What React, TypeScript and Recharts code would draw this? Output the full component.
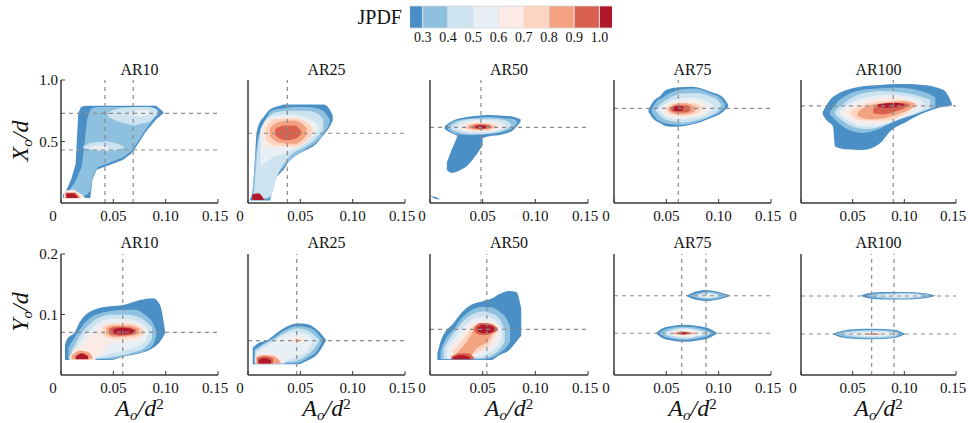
import { ComposedChart, Area, XAxis, YAxis, ReferenceLine } from 'recharts';

type Patch = { lv: number; pts: number[][] };

const LEVEL_COLORS = ['#4a8fc5', '#8ec0df', '#cde3ef', '#e8f0f5', '#fbebe4', '#fdd4bf', '#f3a382', '#d9604e', '#b2182b'];
const cbEdges = [0.25, 0.3, 0.4, 0.5, 0.6, 0.7, 0.8, 0.9, 1.0, 1.05];
const cbTicks = [0.3, 0.4, 0.5, 0.6, 0.7, 0.8, 0.9, 1.0];
const xTicks = [0, 0.05, 0.1, 0.15];
const titles = ['AR10', 'AR25', 'AR50', 'AR75', 'AR100'];

// dashed guide lines per panel
const xRowVLines = [[0.042, 0.069], [0.0376], [0.0484], [0.0614], [0.0893]];
const xRowHLines = [[0.729, 0.431], [0.567], [0.615], [0.77], [0.79]];
const yRowVLines = [[0.059], [0.0465], [0.054], [0.0647, 0.0879], [0.0684, 0.09]];
const yRowHLines = [[0.0705], [0.0567], [0.0755], [0.131, 0.069], [0.1306, 0.0678]];

// contour patches, points are [x, lower, upper]
const xAR10: Patch[] = [
  { lv: 0, pts: [[0.002, 0.04, 0.07], [0.006, 0.04, 0.12], [0.01, 0.04, 0.2], [0.014, 0.04, 0.32], [0.0165, 0.04, 0.73], [0.019, 0.04, 0.78], [0.023, 0.04, 0.79], [0.028, 0.04, 0.79], [0.03, 0.19, 0.79], [0.034, 0.27, 0.79], [0.047, 0.31, 0.79], [0.059, 0.35, 0.79], [0.067, 0.4, 0.79], [0.072, 0.46, 0.79], [0.081, 0.58, 0.79], [0.091, 0.68, 0.79], [0.098, 0.73, 0.74]] },
  { lv: 1, pts: [[0.008, 0.05, 0.1], [0.014, 0.05, 0.18], [0.02, 0.05, 0.3], [0.025, 0.07, 0.68], [0.028, 0.1, 0.76], [0.031, 0.23, 0.775], [0.035, 0.29, 0.78], [0.047, 0.33, 0.78], [0.059, 0.37, 0.78], [0.067, 0.42, 0.78], [0.072, 0.48, 0.78], [0.081, 0.6, 0.78], [0.089, 0.69, 0.775], [0.093, 0.73, 0.745]] },
  { lv: 2, pts: [[0.045, 0.7, 0.74], [0.055, 0.66, 0.77], [0.07, 0.63, 0.78], [0.085, 0.66, 0.78], [0.092, 0.72, 0.76]] },
  { lv: 2, pts: [[0.021, 0.45, 0.46], [0.028, 0.43, 0.49], [0.045, 0.42, 0.5], [0.055, 0.43, 0.48], [0.06, 0.45, 0.46]] },
  { lv: 3, pts: [[0.065, 0.72, 0.73], [0.075, 0.7, 0.76], [0.085, 0.72, 0.75]] },
  { lv: 3, pts: [[0.028, 0.445, 0.455], [0.036, 0.435, 0.47], [0.045, 0.44, 0.46]] },
  { lv: 4, pts: [[0.003, 0.035, 0.1], [0.012, 0.035, 0.11], [0.02, 0.035, 0.07], [0.023, 0.035, 0.045]] },
  { lv: 6, pts: [[0.004, 0.038, 0.085], [0.014, 0.038, 0.088], [0.018, 0.038, 0.055]] },
  { lv: 8, pts: [[0.005, 0.04, 0.08], [0.013, 0.04, 0.08], [0.016, 0.04, 0.05]] },
];

const xAR25: Patch[] = [
  { lv: 0, pts: [[0.002, 0.02, 0.03], [0.005, 0.02, 0.13], [0.008, 0.02, 0.55], [0.01, 0.02, 0.63], [0.015, 0.02, 0.7], [0.021, 0.02, 0.76], [0.024, 0.16, 0.775], [0.0305, 0.24, 0.79], [0.034, 0.27, 0.8], [0.04, 0.35, 0.8], [0.0465, 0.39, 0.8], [0.053, 0.42, 0.8], [0.065, 0.48, 0.8], [0.072, 0.55, 0.8], [0.078, 0.62, 0.76], [0.081, 0.67, 0.71]] },
  { lv: 1, pts: [[0.004, 0.03, 0.06], [0.009, 0.03, 0.5], [0.012, 0.03, 0.6], [0.017, 0.03, 0.68], [0.021, 0.04, 0.74], [0.026, 0.19, 0.76], [0.034, 0.29, 0.77], [0.045, 0.38, 0.78], [0.055, 0.44, 0.78], [0.066, 0.5, 0.77], [0.075, 0.6, 0.72], [0.078, 0.65, 0.68]] },
  { lv: 2, pts: [[0.006, 0.04, 0.1], [0.011, 0.04, 0.55], [0.016, 0.04, 0.65], [0.022, 0.06, 0.72], [0.028, 0.22, 0.74], [0.04, 0.38, 0.75], [0.055, 0.46, 0.75], [0.066, 0.53, 0.73], [0.072, 0.6, 0.68]] },
  { lv: 3, pts: [[0.012, 0.3, 0.6], [0.02, 0.35, 0.7], [0.04, 0.42, 0.72], [0.06, 0.52, 0.68], [0.068, 0.6, 0.63]] },
  { lv: 4, pts: [[0.014, 0.48, 0.62], [0.02, 0.45, 0.68], [0.04, 0.45, 0.7], [0.055, 0.5, 0.67], [0.063, 0.58, 0.62]] },
  { lv: 5, pts: [[0.017, 0.52, 0.62], [0.025, 0.47, 0.68], [0.045, 0.46, 0.69], [0.058, 0.52, 0.64], [0.062, 0.57, 0.59]] },
  { lv: 6, pts: [[0.021, 0.54, 0.61], [0.03, 0.49, 0.66], [0.045, 0.48, 0.67], [0.056, 0.55, 0.61]] },
  { lv: 7, pts: [[0.026, 0.55, 0.6], [0.035, 0.51, 0.63], [0.045, 0.52, 0.63], [0.051, 0.56, 0.58]] },
  { lv: 8, pts: [[0.004, 0.025, 0.07], [0.01, 0.025, 0.08], [0.015, 0.025, 0.035]] },
];

const xAR50: Patch[] = [
  { lv: 0, pts: [[0.014, 0.6, 0.625], [0.018, 0.58, 0.65], [0.025, 0.55, 0.68], [0.035, 0.53, 0.7], [0.045, 0.52, 0.71], [0.055, 0.54, 0.715], [0.07, 0.56, 0.71], [0.08, 0.6, 0.7], [0.086, 0.66, 0.68]] },
  { lv: 0, pts: [[0.016, 0.27, 0.33], [0.02, 0.245, 0.42], [0.024, 0.25, 0.5], [0.028, 0.265, 0.58], [0.035, 0.3, 0.6], [0.042, 0.37, 0.6], [0.05, 0.47, 0.6]] },
  { lv: 0, pts: [[0.001, 0.05, 0.055], [0.005, 0.035, 0.05], [0.009, 0.028, 0.033]] },
  { lv: 1, pts: [[0.017, 0.6, 0.63], [0.025, 0.56, 0.67], [0.04, 0.55, 0.69], [0.055, 0.56, 0.7], [0.07, 0.58, 0.69], [0.08, 0.62, 0.68], [0.083, 0.65, 0.66]] },
  { lv: 2, pts: [[0.02, 0.6, 0.63], [0.03, 0.57, 0.67], [0.045, 0.56, 0.685], [0.06, 0.57, 0.685], [0.072, 0.6, 0.67], [0.077, 0.625, 0.64]] },
  { lv: 3, pts: [[0.025, 0.6, 0.63], [0.035, 0.58, 0.665], [0.05, 0.575, 0.675], [0.065, 0.59, 0.665], [0.072, 0.62, 0.63]] },
  { lv: 4, pts: [[0.03, 0.6, 0.63], [0.04, 0.585, 0.655], [0.055, 0.585, 0.66], [0.066, 0.61, 0.63]] },
  { lv: 5, pts: [[0.033, 0.605, 0.625], [0.042, 0.59, 0.65], [0.055, 0.59, 0.65], [0.063, 0.61, 0.625]] },
  { lv: 6, pts: [[0.036, 0.61, 0.625], [0.045, 0.595, 0.645], [0.055, 0.6, 0.64], [0.06, 0.615, 0.625]] },
  { lv: 7, pts: [[0.04, 0.61, 0.625], [0.047, 0.6, 0.64], [0.055, 0.605, 0.635], [0.058, 0.615, 0.622]] },
  { lv: 8, pts: [[0.043, 0.612, 0.622], [0.048, 0.605, 0.632], [0.053, 0.61, 0.628]] },
];

const xAR75: Patch[] = [
  { lv: 0, pts: [[0.033, 0.74, 0.76], [0.037, 0.69, 0.82], [0.044, 0.65, 0.87], [0.05, 0.625, 0.92], [0.06, 0.62, 0.94], [0.075, 0.64, 0.945], [0.092, 0.69, 0.905], [0.104, 0.74, 0.86], [0.109, 0.78, 0.8]] },
  { lv: 1, pts: [[0.036, 0.74, 0.76], [0.04, 0.69, 0.82], [0.047, 0.655, 0.86], [0.055, 0.64, 0.9], [0.065, 0.635, 0.925], [0.078, 0.655, 0.93], [0.092, 0.7, 0.89], [0.102, 0.745, 0.85], [0.106, 0.78, 0.8]] },
  { lv: 2, pts: [[0.04, 0.745, 0.76], [0.045, 0.7, 0.81], [0.052, 0.67, 0.85], [0.065, 0.655, 0.89], [0.08, 0.675, 0.895], [0.092, 0.71, 0.865], [0.1, 0.755, 0.83], [0.102, 0.78, 0.8]] },
  { lv: 3, pts: [[0.043, 0.75, 0.765], [0.05, 0.7, 0.81], [0.06, 0.68, 0.845], [0.075, 0.69, 0.855], [0.088, 0.72, 0.83], [0.095, 0.77, 0.8]] },
  { lv: 4, pts: [[0.047, 0.75, 0.77], [0.053, 0.71, 0.81], [0.065, 0.7, 0.83], [0.08, 0.71, 0.825], [0.088, 0.75, 0.8]] },
  { lv: 5, pts: [[0.05, 0.75, 0.77], [0.055, 0.72, 0.8], [0.065, 0.71, 0.815], [0.078, 0.725, 0.805], [0.083, 0.76, 0.78]] },
  { lv: 6, pts: [[0.052, 0.75, 0.775], [0.058, 0.725, 0.8], [0.066, 0.72, 0.81], [0.075, 0.735, 0.795], [0.078, 0.76, 0.775]] },
  { lv: 7, pts: [[0.054, 0.755, 0.775], [0.06, 0.735, 0.795], [0.068, 0.735, 0.795], [0.073, 0.755, 0.78]] },
  { lv: 8, pts: [[0.056, 0.758, 0.775], [0.061, 0.745, 0.79], [0.066, 0.755, 0.785]] },
];

const xAR100: Patch[] = [
  { lv: 0, pts: [[0.021, 0.72, 0.74], [0.025, 0.67, 0.8], [0.031, 0.62, 0.864], [0.033, 0.46, 0.875], [0.044, 0.436, 0.919], [0.06, 0.431, 0.95], [0.0765, 0.485, 0.96], [0.086, 0.58, 0.966], [0.1023, 0.661, 0.967], [0.118, 0.729, 0.96], [0.138, 0.783, 0.919], [0.146, 0.79, 0.81]] },
  { lv: 1, pts: [[0.028, 0.72, 0.74], [0.035, 0.66, 0.82], [0.045, 0.6, 0.88], [0.06, 0.57, 0.92], [0.075, 0.6, 0.93], [0.09, 0.66, 0.94], [0.105, 0.71, 0.93], [0.12, 0.75, 0.9], [0.13, 0.78, 0.86]] },
  { lv: 2, pts: [[0.033, 0.72, 0.75], [0.04, 0.67, 0.8], [0.05, 0.62, 0.86], [0.065, 0.6, 0.9], [0.08, 0.63, 0.91], [0.095, 0.68, 0.9], [0.11, 0.72, 0.88], [0.125, 0.77, 0.84]] },
  { lv: 3, pts: [[0.037, 0.72, 0.75], [0.045, 0.67, 0.8], [0.055, 0.63, 0.84], [0.07, 0.62, 0.87], [0.085, 0.65, 0.88], [0.1, 0.7, 0.87], [0.115, 0.75, 0.84], [0.12, 0.78, 0.8]] },
  { lv: 4, pts: [[0.042, 0.72, 0.75], [0.05, 0.68, 0.79], [0.06, 0.65, 0.82], [0.075, 0.65, 0.85], [0.09, 0.68, 0.86], [0.105, 0.73, 0.84], [0.113, 0.78, 0.81]] },
  { lv: 5, pts: [[0.048, 0.72, 0.74], [0.055, 0.68, 0.78], [0.065, 0.67, 0.81], [0.08, 0.67, 0.83], [0.095, 0.7, 0.84], [0.107, 0.76, 0.82]] },
  { lv: 6, pts: [[0.055, 0.71, 0.74], [0.06, 0.69, 0.77], [0.07, 0.68, 0.8], [0.085, 0.7, 0.82], [0.1, 0.74, 0.83], [0.11, 0.78, 0.81]] },
  { lv: 7, pts: [[0.07, 0.73, 0.77], [0.08, 0.72, 0.8], [0.09, 0.74, 0.81], [0.1, 0.77, 0.81], [0.105, 0.79, 0.8]] },
  { lv: 8, pts: [[0.074, 0.785, 0.8], [0.082, 0.775, 0.81], [0.093, 0.78, 0.815], [0.1, 0.795, 0.805]] },
];

const yAR10: Patch[] = [
  { lv: 0, pts: [[0.0038, 0.0248, 0.0496], [0.0054, 0.0248, 0.058], [0.0134, 0.0248, 0.0716], [0.0181, 0.0248, 0.088], [0.0277, 0.0248, 0.1047], [0.0436, 0.0248, 0.113], [0.0468, 0.0248, 0.1135], [0.0595, 0.0303, 0.1157], [0.0754, 0.0358, 0.124], [0.0882, 0.045, 0.127], [0.0945, 0.055, 0.116], [0.0993, 0.068, 0.074]] },
  { lv: 1, pts: [[0.007, 0.026, 0.045], [0.013, 0.026, 0.062], [0.02, 0.026, 0.08], [0.03, 0.026, 0.097], [0.045, 0.026, 0.105], [0.06, 0.031, 0.108], [0.07, 0.035, 0.108], [0.08, 0.04, 0.1], [0.088, 0.05, 0.085], [0.091, 0.065, 0.072]] },
  { lv: 2, pts: [[0.01, 0.027, 0.04], [0.02, 0.027, 0.07], [0.03, 0.027, 0.088], [0.04, 0.028, 0.097], [0.05, 0.03, 0.1], [0.06, 0.033, 0.1], [0.07, 0.038, 0.098], [0.08, 0.045, 0.09], [0.087, 0.06, 0.078]] },
  { lv: 3, pts: [[0.012, 0.028, 0.035], [0.02, 0.028, 0.06], [0.03, 0.028, 0.078], [0.04, 0.032, 0.09], [0.05, 0.036, 0.093], [0.06, 0.04, 0.093], [0.07, 0.045, 0.09], [0.08, 0.055, 0.082], [0.083, 0.065, 0.072]] },
  { lv: 4, pts: [[0.015, 0.028, 0.035], [0.025, 0.028, 0.06], [0.035, 0.03, 0.075], [0.045, 0.05, 0.086], [0.06, 0.055, 0.088], [0.075, 0.058, 0.083], [0.08, 0.068, 0.072]] },
  { lv: 5, pts: [[0.04, 0.065, 0.08], [0.05, 0.06, 0.085], [0.065, 0.061, 0.085], [0.077, 0.065, 0.078], [0.08, 0.07, 0.072]] },
  { lv: 6, pts: [[0.043, 0.068, 0.078], [0.05, 0.063, 0.082], [0.065, 0.064, 0.082], [0.075, 0.068, 0.077]] },
  { lv: 7, pts: [[0.046, 0.068, 0.077], [0.055, 0.065, 0.08], [0.065, 0.066, 0.079], [0.072, 0.069, 0.075]] },
  { lv: 8, pts: [[0.05, 0.069, 0.076], [0.058, 0.067, 0.078], [0.066, 0.068, 0.077], [0.07, 0.071, 0.074]] },
  { lv: 4, pts: [[0.008, 0.025, 0.03], [0.015, 0.025, 0.045], [0.025, 0.025, 0.05], [0.033, 0.025, 0.035]] },
  { lv: 6, pts: [[0.01, 0.026, 0.032], [0.018, 0.026, 0.04], [0.026, 0.026, 0.038], [0.03, 0.026, 0.03]] },
  { lv: 8, pts: [[0.014, 0.026, 0.031], [0.02, 0.026, 0.036], [0.026, 0.026, 0.031]] },
];

const yAR25: Patch[] = [
  { lv: 0, pts: [[0.0045, 0.0176, 0.045], [0.01, 0.0176, 0.053], [0.019, 0.0176, 0.058], [0.025, 0.0176, 0.066], [0.035, 0.0176, 0.078], [0.0475, 0.0176, 0.085], [0.052, 0.02, 0.085], [0.057, 0.024, 0.084], [0.0666, 0.035, 0.074], [0.0745, 0.057, 0.058]] },
  { lv: 1, pts: [[0.006, 0.019, 0.042], [0.015, 0.019, 0.052], [0.025, 0.019, 0.062], [0.035, 0.019, 0.074], [0.047, 0.02, 0.081], [0.057, 0.028, 0.079], [0.066, 0.04, 0.07], [0.071, 0.056, 0.058]] },
  { lv: 2, pts: [[0.007, 0.02, 0.04], [0.015, 0.02, 0.05], [0.025, 0.02, 0.059], [0.035, 0.021, 0.07], [0.047, 0.024, 0.077], [0.056, 0.032, 0.074], [0.064, 0.045, 0.065], [0.068, 0.056, 0.058]] },
  { lv: 3, pts: [[0.008, 0.02, 0.038], [0.02, 0.02, 0.05], [0.03, 0.021, 0.062], [0.04, 0.026, 0.07], [0.05, 0.032, 0.07], [0.058, 0.042, 0.065], [0.062, 0.055, 0.058]] },
  { lv: 4, pts: [[0.04, 0.055, 0.06], [0.047, 0.052, 0.063], [0.054, 0.055, 0.06]] },
  { lv: 5, pts: [[0.044, 0.056, 0.059], [0.048, 0.055, 0.06], [0.052, 0.056, 0.059]] },
  { lv: 4, pts: [[0.007, 0.019, 0.032], [0.015, 0.019, 0.036], [0.025, 0.019, 0.034], [0.035, 0.019, 0.024]] },
  { lv: 6, pts: [[0.008, 0.019, 0.03], [0.015, 0.019, 0.033], [0.025, 0.019, 0.031], [0.031, 0.019, 0.022]] },
  { lv: 7, pts: [[0.009, 0.019, 0.028], [0.016, 0.019, 0.031], [0.024, 0.019, 0.028]] },
  { lv: 8, pts: [[0.01, 0.019, 0.025], [0.016, 0.019, 0.028], [0.022, 0.019, 0.024]] },
];

const yAR50: Patch[] = [
  { lv: 0, pts: [[0.007, 0.0248, 0.035], [0.01, 0.0248, 0.055], [0.014, 0.0248, 0.07], [0.021, 0.0248, 0.083], [0.031, 0.0248, 0.105], [0.04, 0.0248, 0.117], [0.05, 0.0248, 0.122], [0.058, 0.0248, 0.126], [0.066, 0.033, 0.134], [0.075, 0.041, 0.139], [0.082, 0.055, 0.137], [0.0866, 0.065, 0.11]] },
  { lv: 1, pts: [[0.01, 0.026, 0.04], [0.015, 0.026, 0.06], [0.022, 0.026, 0.075], [0.031, 0.026, 0.096], [0.04, 0.026, 0.108], [0.05, 0.026, 0.113], [0.058, 0.028, 0.112], [0.066, 0.036, 0.105], [0.072, 0.045, 0.095], [0.076, 0.055, 0.08]] },
  { lv: 2, pts: [[0.013, 0.027, 0.045], [0.022, 0.027, 0.068], [0.031, 0.027, 0.088], [0.04, 0.027, 0.1], [0.05, 0.028, 0.105], [0.058, 0.032, 0.102], [0.066, 0.042, 0.093], [0.071, 0.055, 0.075]] },
  { lv: 3, pts: [[0.016, 0.027, 0.045], [0.025, 0.027, 0.065], [0.035, 0.028, 0.085], [0.045, 0.03, 0.095], [0.055, 0.036, 0.096], [0.063, 0.045, 0.088], [0.068, 0.06, 0.075]] },
  { lv: 4, pts: [[0.02, 0.027, 0.045], [0.03, 0.027, 0.065], [0.04, 0.03, 0.085], [0.05, 0.04, 0.09], [0.06, 0.05, 0.088], [0.065, 0.065, 0.078]] },
  { lv: 5, pts: [[0.022, 0.027, 0.04], [0.032, 0.027, 0.06], [0.042, 0.035, 0.082], [0.052, 0.045, 0.086], [0.06, 0.06, 0.085], [0.063, 0.072, 0.078]] },
  { lv: 6, pts: [[0.025, 0.027, 0.035], [0.035, 0.027, 0.055], [0.045, 0.045, 0.082], [0.054, 0.055, 0.085], [0.06, 0.07, 0.08]] },
  { lv: 7, pts: [[0.042, 0.072, 0.079], [0.048, 0.066, 0.086], [0.056, 0.067, 0.085], [0.064, 0.073, 0.078]] },
  { lv: 8, pts: [[0.045, 0.073, 0.078], [0.05, 0.069, 0.083], [0.057, 0.07, 0.082], [0.062, 0.074, 0.077]] },
  { lv: 7, pts: [[0.02, 0.026, 0.03], [0.028, 0.026, 0.036], [0.036, 0.026, 0.036], [0.042, 0.026, 0.028]] },
  { lv: 8, pts: [[0.022, 0.026, 0.029], [0.03, 0.026, 0.033], [0.038, 0.026, 0.029]] },
];

const yAR75: Patch[] = [
  { lv: 0, pts: [[0.04, 0.069, 0.069], [0.045, 0.062, 0.076], [0.055, 0.057, 0.081], [0.067, 0.055, 0.083], [0.08, 0.057, 0.081], [0.092, 0.062, 0.076], [0.099, 0.069, 0.069]] },
  { lv: 1, pts: [[0.043, 0.069, 0.069], [0.05, 0.062, 0.076], [0.067, 0.058, 0.08], [0.085, 0.062, 0.076], [0.096, 0.069, 0.069]] },
  { lv: 2, pts: [[0.046, 0.069, 0.069], [0.055, 0.063, 0.075], [0.067, 0.06, 0.078], [0.082, 0.064, 0.074], [0.093, 0.069, 0.069]] },
  { lv: 3, pts: [[0.05, 0.069, 0.069], [0.06, 0.064, 0.074], [0.07, 0.062, 0.076], [0.08, 0.065, 0.073], [0.09, 0.069, 0.069]] },
  { lv: 4, pts: [[0.052, 0.069, 0.069], [0.062, 0.065, 0.073], [0.075, 0.066, 0.072], [0.085, 0.069, 0.069]] },
  { lv: 5, pts: [[0.055, 0.069, 0.069], [0.065, 0.066, 0.072], [0.08, 0.069, 0.069]] },
  { lv: 6, pts: [[0.057, 0.069, 0.069], [0.066, 0.066, 0.072], [0.077, 0.069, 0.069]] },
  { lv: 7, pts: [[0.058, 0.069, 0.069], [0.066, 0.067, 0.071], [0.075, 0.069, 0.069]] },
  { lv: 8, pts: [[0.06, 0.069, 0.069], [0.067, 0.0675, 0.0705], [0.073, 0.069, 0.069]] },
  { lv: 0, pts: [[0.0688, 0.131, 0.131], [0.075, 0.126, 0.136], [0.088, 0.1225, 0.1405], [0.1, 0.125, 0.137], [0.1117, 0.131, 0.131]] },
  { lv: 1, pts: [[0.072, 0.131, 0.131], [0.08, 0.127, 0.135], [0.09, 0.125, 0.138], [0.1, 0.127, 0.135], [0.108, 0.131, 0.131]] },
  { lv: 2, pts: [[0.076, 0.131, 0.131], [0.09, 0.127, 0.136], [0.103, 0.131, 0.131]] },
  { lv: 3, pts: [[0.08, 0.131, 0.131], [0.09, 0.128, 0.134], [0.1, 0.131, 0.131]] },
];

const yAR100: Patch[] = [
  { lv: 0, pts: [[0.03, 0.0678, 0.0678], [0.04, 0.062, 0.073], [0.055, 0.0595, 0.076], [0.07, 0.059, 0.0765], [0.09, 0.061, 0.075], [0.1013, 0.0678, 0.0678]] },
  { lv: 1, pts: [[0.033, 0.0678, 0.0678], [0.045, 0.0625, 0.073], [0.07, 0.0605, 0.075], [0.09, 0.0625, 0.073], [0.098, 0.0678, 0.0678]] },
  { lv: 2, pts: [[0.037, 0.0678, 0.0678], [0.05, 0.064, 0.072], [0.07, 0.062, 0.0735], [0.088, 0.064, 0.0715], [0.095, 0.0678, 0.0678]] },
  { lv: 3, pts: [[0.045, 0.0678, 0.0678], [0.06, 0.065, 0.0705], [0.075, 0.064, 0.071], [0.09, 0.0678, 0.0678]] },
  { lv: 5, pts: [[0.055, 0.0678, 0.0678], [0.068, 0.0665, 0.069], [0.08, 0.0678, 0.0678]] },
  { lv: 7, pts: [[0.06, 0.0678, 0.0678], [0.07, 0.0668, 0.0688], [0.078, 0.0678, 0.0678]] },
  { lv: 0, pts: [[0.0575, 0.131, 0.131], [0.065, 0.127, 0.135], [0.08, 0.125, 0.137], [0.1, 0.125, 0.137], [0.12, 0.127, 0.135], [0.1305, 0.131, 0.131]] },
  { lv: 1, pts: [[0.062, 0.131, 0.131], [0.075, 0.127, 0.135], [0.1, 0.126, 0.136], [0.12, 0.128, 0.134], [0.126, 0.131, 0.131]] },
  { lv: 2, pts: [[0.068, 0.131, 0.131], [0.08, 0.128, 0.134], [0.1, 0.127, 0.135], [0.12, 0.131, 0.131]] },
  { lv: 3, pts: [[0.075, 0.131, 0.131], [0.09, 0.129, 0.133], [0.11, 0.129, 0.133], [0.118, 0.131, 0.131]] },
];

const xRowPatches = [xAR10, xAR25, xAR50, xAR75, xAR100];
const yRowPatches = [yAR10, yAR25, yAR50, yAR75, yAR100];

const FONT = '"Liberation Serif", "DejaVu Serif", serif';
const FRAME = '#3a3a3a';
const colLefts = [61, 248, 430, 614, 801];
const colWidths = [157, 157, 158, 157, 155];
const ML = 45;
const MR = 16;
const MT = 8;
const MB = 30;

function XTick(props: any) {
  const { x, y, payload } = props;
  const v = payload.value;
  const label = v === 0 ? '0' : v.toFixed(2);
  return (
    <text x={x + (v === 0 ? -8 : v === 0.15 ? -3 : 0)} y={y} dy={11} textAnchor="middle" fontSize={15} fontFamily={FONT} fill="#111">
      {label}
    </text>
  );
}

function YTick(props: any) {
  const { x, y, payload } = props;
  return (
    <text x={x} y={y} dy={5} textAnchor="end" fontSize={15} fontFamily={FONT} fill="#111">
      {payload.value.toFixed(1)}
    </text>
  );
}

interface PanelProps {
  patches: Patch[];
  vLines: number[];
  hLines: number[];
  left: number;
  top: number;
  w: number;
  h: number;
  yMax: number;
  showY: boolean;
  curve: any;
}

function Panel({ patches, vLines, hLines, left, top, w, h, yMax, showY, curve }: PanelProps) {
  const sorted = patches.map((p, i) => ({ ...p, i })).sort((a, b) => a.lv - b.lv || a.i - b.i);
  const axisLine = { stroke: FRAME, strokeWidth: 1.5 };
  const tickLine = { stroke: FRAME, strokeWidth: 1 };
  return (
    <div style={{ position: 'absolute', left: left - ML, top: top - MT }}>
      <ComposedChart width={ML + w + MR} height={MT + h + MB} margin={{ top: MT, right: MR, bottom: 0, left: 0 }}>
        {sorted.map((p) => (
          <Area
            key={p.i}
            data={p.pts.map(([x, lo, hi]) => ({ x, lo, hi }))}
            dataKey={(d: any) => [d.lo, d.hi]}
            type={curve}
            fill={LEVEL_COLORS[p.lv]}
            fillOpacity={1}
            stroke="none"
            dot={false}
            activeDot={false}
            isAnimationActive={false}
          />
        ))}
        {vLines.map((v) => (
          <ReferenceLine key={'v' + v} x={v} stroke="#8c8c8c" strokeWidth={1.2} strokeDasharray="4 4" />
        ))}
        {hLines.map((v) => (
          <ReferenceLine key={'h' + v} y={v} stroke="#8c8c8c" strokeWidth={1.2} strokeDasharray="4 4" />
        ))}
        <XAxis
          dataKey="x"
          type="number"
          domain={[0, 0.15]}
          ticks={xTicks}
          allowDataOverflow
          height={MB}
          tickSize={-4}
          tickMargin={11}
          tick={<XTick />}
          axisLine={axisLine}
          tickLine={tickLine}
          interval={0}
        />
        <XAxis
          xAxisId="top"
          orientation="top"
          type="number"
          domain={[0, 0.15]}
          ticks={xTicks}
          height={0}
          tickSize={-4}
          tick={false}
          axisLine={axisLine}
          tickLine={tickLine}
        />
        <YAxis
          type="number"
          domain={[0, yMax]}
          ticks={[yMax / 2, yMax]}
          allowDataOverflow
          width={ML}
          tickSize={-4}
          tickMargin={7}
          tick={showY ? <YTick /> : false}
          axisLine={axisLine}
          tickLine={tickLine}
          interval={0}
        />
        <YAxis
          yAxisId="right"
          orientation="right"
          type="number"
          domain={[0, yMax]}
          ticks={[yMax / 2, yMax]}
          width={0}
          tickSize={-4}
          tick={false}
          axisLine={axisLine}
          tickLine={tickLine}
        />
      </ComposedChart>
    </div>
  );
}

function ColorBar() {
  const segs = cbEdges.slice(0, -1).map((e, i) => ({ i, pts: [{ x: e, lo: 0, hi: 1 }, { x: cbEdges[i + 1], lo: 0, hi: 1 }] }));
  return (
    <div style={{ position: 'absolute', left: 400, top: 5 }}>
      <ComposedChart width={222} height={45} margin={{ top: 1, right: 10, left: 10, bottom: 0 }}>
        {segs.map((s) => (
          <Area
            key={s.i}
            data={s.pts}
            dataKey={(d: any) => [d.lo, d.hi]}
            type="linear"
            fill={LEVEL_COLORS[s.i]}
            fillOpacity={1}
            stroke="#d8d8d8"
            strokeWidth={0.8}
            dot={false}
            activeDot={false}
            isAnimationActive={false}
          />
        ))}
        {cbTicks.map((t) => (
          <ReferenceLine key={t} x={t} stroke="#e2e2e2" strokeWidth={1} />
        ))}
        <XAxis
          dataKey="x"
          type="number"
          domain={[0.25, 1.05]}
          ticks={cbTicks}
          interval={0}
          height={22}
          axisLine={false}
          tickLine={false}
          tickSize={0}
          tickMargin={4}
          tickFormatter={(v: number) => v.toFixed(1)}
          tick={{ fontSize: 14, fontFamily: FONT, fill: '#111' }}
        />
        <YAxis hide type="number" domain={[0, 1]} />
      </ComposedChart>
    </div>
  );
}

const titleStyle: any = { position: 'absolute', width: 157, textAlign: 'center', fontFamily: FONT, fontSize: 16, color: '#111', lineHeight: '16px' };
const axTitleStyle: any = { position: 'absolute', fontFamily: FONT, fontStyle: 'italic', fontSize: 24, color: '#111', whiteSpace: 'nowrap', lineHeight: '22px' };
const subStyle: any = { fontSize: 15, verticalAlign: 'baseline', position: 'relative', top: 4 };
const supStyle: any = { fontSize: 15, fontStyle: 'normal', verticalAlign: 'baseline', position: 'relative', top: -7 };

export default function App() {
  return (
    <div style={{ position: 'absolute', left: 0, top: 0, width: 972, height: 423, background: '#fff', overflow: 'hidden' }}>
      <div style={{ position: 'absolute', left: 340, top: 5, width: 62, textAlign: 'right', fontFamily: FONT, fontSize: 20, lineHeight: '24px', color: '#111' }}>
        JPDF
      </div>
      <ColorBar />

      {titles.map((t, i) => (
        <div key={'t1' + t} style={{ ...titleStyle, left: colLefts[i], top: 62, width: colWidths[i] }}>{t}</div>
      ))}
      {titles.map((t, i) => (
        <div key={'t2' + t} style={{ ...titleStyle, left: colLefts[i], top: 235, width: colWidths[i] }}>{t}</div>
      ))}

      {xRowPatches.map((p, i) => (
        <Panel
          key={'x' + i}
          patches={p}
          vLines={xRowVLines[i]}
          hLines={xRowHLines[i]}
          left={colLefts[i]}
          top={80}
          w={colWidths[i]}
          h={123}
          yMax={1.0}
          showY={i === 0}
          curve={i === 0 ? 'linear' : 'monotoneX'}
        />
      ))}
      {yRowPatches.map((p, i) => (
        <Panel
          key={'y' + i}
          patches={p}
          vLines={yRowVLines[i]}
          hLines={yRowHLines[i]}
          left={colLefts[i]}
          top={254}
          w={colWidths[i]}
          h={121}
          yMax={0.2}
          showY={i === 0}
          curve="monotoneX"
        />
      ))}

      <div style={{ ...axTitleStyle, left: 21, top: 141, transform: 'translate(-50%, -50%) rotate(-90deg)' }}>
        X<span style={subStyle}>o</span>/d
      </div>
      <div style={{ ...axTitleStyle, left: 21, top: 312, transform: 'translate(-50%, -50%) rotate(-90deg)' }}>
        Y<span style={subStyle}>o</span>/d
      </div>
      {colLefts.map((l, i) => (
        <div key={'xt' + i} style={{ ...axTitleStyle, left: l + colWidths[i] / 2, top: 409, transform: 'translate(-50%, -50%)' }}>
          A<span style={subStyle}>o</span>/d<span style={supStyle}>2</span>
        </div>
      ))}
    </div>
  );
}
